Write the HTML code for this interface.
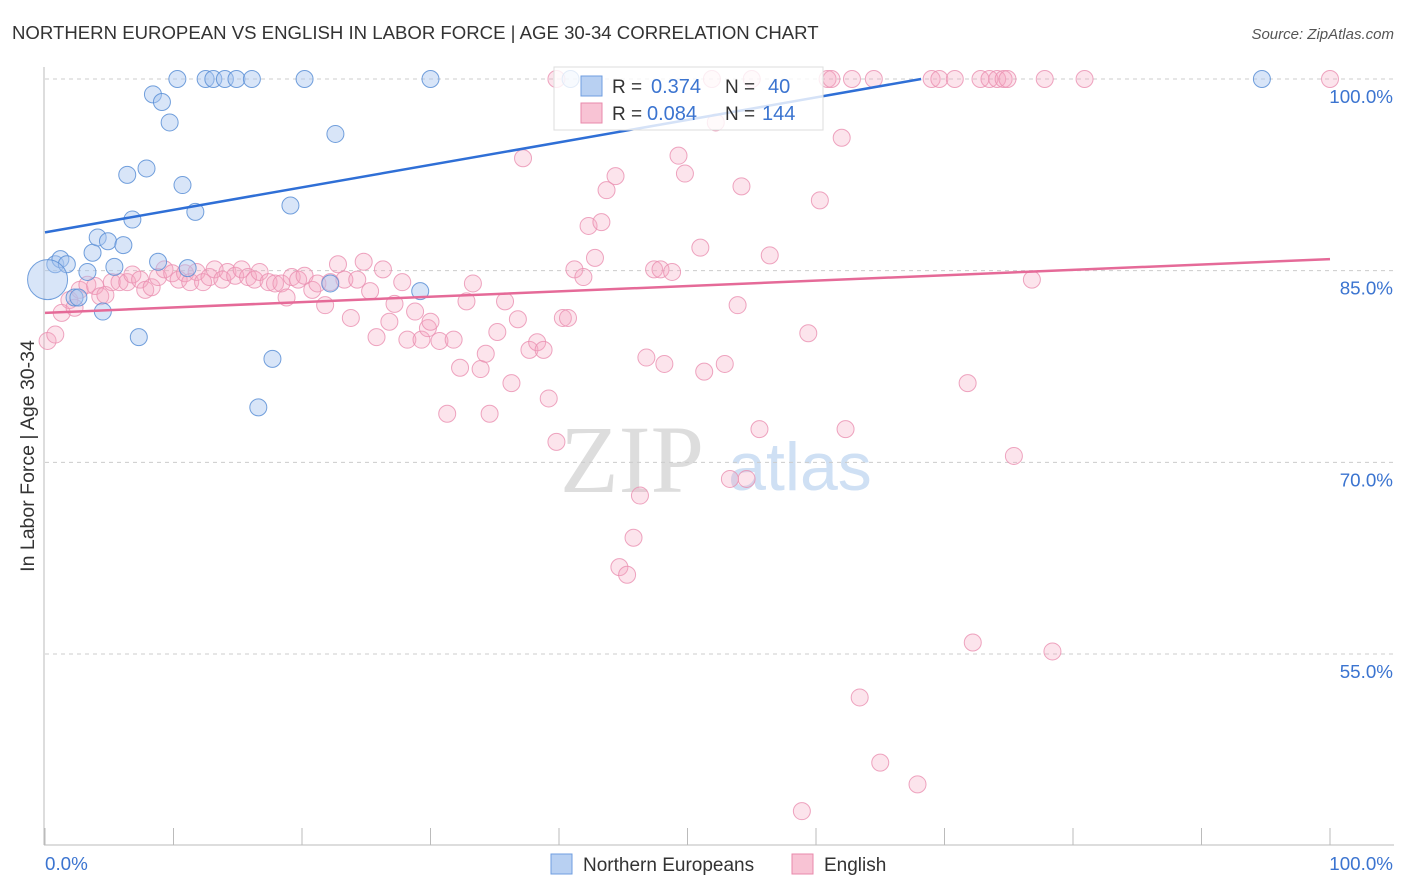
<!DOCTYPE html>
<html><head><meta charset="utf-8"><style>
body{margin:0;background:#fff;font-family:"Liberation Sans",sans-serif;}
svg{display:block}
</style></head><body>
<svg id="chart" width="1406" height="892" xmlns="http://www.w3.org/2000/svg">
<text x="12" y="39" font-size="18.6" fill="#333">NORTHERN EUROPEAN VS ENGLISH IN LABOR FORCE | AGE 30-34 CORRELATION CHART</text>
<text x="1394" y="39" font-size="15" fill="#555" font-style="italic" text-anchor="end">Source: ZipAtlas.com</text>
<text x="0" y="0" transform="translate(34,456) rotate(-90)" font-size="19.5" fill="#333" text-anchor="middle">In Labor Force | Age 30-34</text>
<text x="632" y="492" font-size="96" fill="#ddd" font-family="Liberation Serif,serif" text-anchor="middle">ZIP</text>
<text x="800" y="490" font-size="68" fill="#cfe0f4" text-anchor="middle">atlas</text>
<g id="grid"></g><g id="axes"></g><g id="pts"></g><g id="trend"></g>
<g>
<rect x="554" y="67" width="269" height="63" fill="#fff" fill-opacity="0.8" stroke="#ddd"/>
<rect x="581" y="76" width="21" height="20" fill="#b8d0f2" stroke="#6f9ee0"/>
<rect x="581" y="103" width="21" height="20" fill="#f8c3d4" stroke="#e88aab"/>
<text x="612" y="93" font-size="19" fill="#333">R = </text><text x="651" y="93" font-size="20" fill="#3b74d0">0.374</text>
<text x="725" y="93" font-size="19" fill="#333">N = </text><text x="768" y="93" font-size="20" fill="#3b74d0">40</text>
<text x="612" y="120" font-size="19" fill="#333">R = </text><text x="647" y="120" font-size="20" fill="#3b74d0">0.084</text>
<text x="725" y="120" font-size="19" fill="#333">N = </text><text x="762" y="120" font-size="20" fill="#3b74d0">144</text>
</g>
<g>
<rect x="551" y="854" width="21" height="20" fill="#b8d0f2" stroke="#6f9ee0"/>
<text x="583" y="871" font-size="19" fill="#333">Northern Europeans</text>
<rect x="792" y="854" width="21" height="20" fill="#f8c3d4" stroke="#e88aab"/>
<text x="824" y="871" font-size="19" fill="#333">English</text>
</g>
</svg>
<script>
const yTicks=[100,85,70,55];
const xTickLabels=["0.0%","100.0%"];
const blueX=[0.8,1.2,1.7,0.2,3.3,3.7,4.1,4.9,6.1,5.4,2.3,2.6,4.5,7.3,6.4,7.9,6.8,8.4,9.1,9.7,10.3,10.7,11.7,12.5,13.1,14.0,14.9,16.1,20.2,22.6,19.1,8.8,11.1,17.7,16.6,22.2,29.2,30.0,40.9,94.7];
const blueY=[85.5,85.9,85.5,84.3,84.9,86.4,87.6,87.3,87.0,85.3,82.9,82.9,81.8,79.8,92.5,93.0,89.0,98.8,98.2,96.6,100,91.7,89.6,100,100,100,100,100,100,95.7,90.1,85.7,85.2,78.1,74.3,84.0,83.4,100,100,100];
const pinkX=[0.2,0.8,1.3,1.9,2.3,2.7,3.3,3.9,4.3,4.7,5.2,5.8,6.4,6.8,7.4,7.8,8.3,8.8,9.3,9.9,10.4,10.9,11.3,11.8,12.3,12.8,13.2,13.8,14.2,14.8,15.3,15.8,16.3,16.7,17.4,17.9,18.4,18.8,19.2,19.7,20.2,20.8,21.2,21.8,22.2,22.8,23.3,23.8,24.3,24.8,25.3,25.8,26.3,26.8,27.2,27.8,28.2,28.8,29.3,29.8,30.0,30.7,31.3,31.8,32.3,32.8,33.3,33.9,34.3,34.6,35.2,35.8,36.3,36.8,37.2,37.7,38.3,38.8,39.2,39.8,40.3,40.7,41.2,41.9,42.3,42.8,43.3,43.7,44.4,44.7,45.3,45.8,46.3,46.8,47.4,47.9,48.2,48.8,49.3,49.8,51.0,51.3,51.9,52.2,52.9,53.3,53.9,54.2,54.6,55.0,55.6,56.4,58.9,59.4,60.3,60.9,61.2,62.0,62.3,62.8,63.4,64.5,65.0,67.9,69.0,69.6,70.8,71.8,72.2,72.8,73.5,74.1,74.6,74.9,75.4,76.8,77.8,78.4,80.9,100,39.8];
const pinkY=[79.5,80.0,81.7,82.7,82.1,83.5,83.9,83.8,83.0,83.1,84.1,84.1,84.1,84.7,84.3,83.5,83.7,84.5,85.1,84.8,84.3,84.8,84.1,84.9,84.1,84.5,85.1,84.3,84.9,84.6,85.1,84.5,84.3,84.9,84.1,84.0,84.0,82.9,84.5,84.3,84.6,83.5,84.0,82.3,84.1,85.5,84.3,81.3,84.3,85.7,83.4,79.8,85.1,81.0,82.4,84.1,79.6,81.8,79.6,80.5,81.0,79.5,73.8,79.6,77.4,82.6,84.0,77.3,78.5,73.8,80.2,82.6,76.2,81.2,93.8,78.8,79.4,78.8,75.0,71.6,81.3,81.3,85.1,84.5,88.5,86.0,88.8,91.3,92.4,61.8,61.2,64.1,67.4,78.2,85.1,85.1,77.7,84.9,94.0,92.6,86.8,77.1,100,96.6,77.7,68.7,82.3,91.6,68.7,100,72.6,86.2,42.7,80.1,90.5,100,100,95.4,72.6,100,51.6,100,46.5,44.8,100,100,100,76.2,55.9,100,100,100,100,100,70.5,84.3,100,55.2,100,100,100];
const blueTrend=[88.0,105.6];
const pinkTrend=[81.7,85.9];
const NS="http://www.w3.org/2000/svg";
const X0=45,X1=1330,Ytop=79,Ybot=654;
function xs(v){return X0+(X1-X0)*v/100;}
function ys(v){return Ytop+(100-v)*(Ybot-Ytop)/45;}
function mk(tag,attrs,parent){const e=document.createElementNS(NS,tag);for(const k in attrs)e.setAttribute(k,attrs[k]);parent.appendChild(e);return e;}
const grid=document.getElementById('grid'),axes=document.getElementById('axes'),pts=document.getElementById('pts'),tr=document.getElementById('trend');
yTicks.forEach(t=>{
 const l=mk('line',{x1:45,x2:1394,y1:ys(t),y2:ys(t),stroke:'#ccc','stroke-dasharray':'4,4'},grid);
 
 
 const tx=mk('text',{x:1393,y:ys(t)+24,'font-size':18.8,fill:'#3b74d0','text-anchor':'end'},grid);
 tx.textContent=t.toFixed(1)+'%';
 
 
});
let a=mk('line',{x1:44,x2:44,y1:67,y2:845,stroke:'#bbb'},axes);


a=mk('line',{x1:44,x2:1394,y1:845,y2:845,stroke:'#bbb'},axes);


for(let i=0;i<=10;i++){
 const t=mk('line',{x1:xs(i*10),x2:xs(i*10),y1:828,y2:845,stroke:'#bbb'},axes);
 
 
}
[[0,'start',45],[100,'end',1393]].forEach((d,i)=>{
 const t=mk('text',{x:d[2],y:870,'font-size':18.8,fill:'#3b74d0','text-anchor':d[1]},axes);
 t.textContent=xTickLabels[i];
 
 
});
pinkX.forEach((x,i)=>{
 const c=mk('circle',{cx:xs(x),cy:ys(pinkY[i]),r:8.5,fill:'#f4a6c0','fill-opacity':0.3,stroke:'#ea8fb0','stroke-opacity':0.8},pts);
 
 
});
blueX.forEach((x,i)=>{
 const c=mk('circle',{cx:xs(x),cy:ys(blueY[i]),r:i===3?20:8.5,fill:'#a9c6ef','fill-opacity':0.45,stroke:'#5b8fd6','stroke-opacity':0.85},pts);
 
 
});
const bx=(100-blueTrend[0])/(blueTrend[1]-blueTrend[0])*100;
let l=mk('line',{x1:xs(0),y1:ys(blueTrend[0]),x2:xs(bx),y2:ys(100),stroke:'#2f6fd6','stroke-width':2.5},tr);


l=mk('line',{x1:xs(0),y1:ys(pinkTrend[0]),x2:xs(100),y2:ys(pinkTrend[1]),stroke:'#e56a98','stroke-width':2.5},tr);


</script>
</body></html>
